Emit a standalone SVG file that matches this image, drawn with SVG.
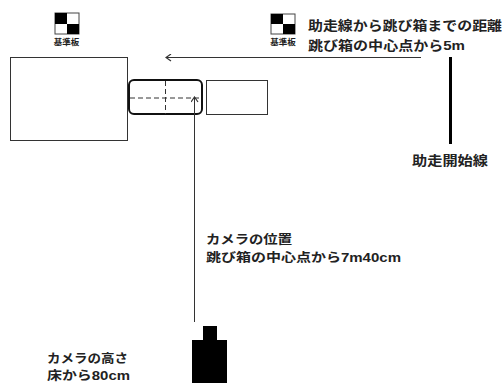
<svg xmlns="http://www.w3.org/2000/svg" width="502" height="383" viewBox="0 0 502 383">
<style>
.t{font-family:"Noto Sans CJK JP","Liberation Sans",sans-serif;font-size:13px;font-weight:700;fill:#222}
.n{font-size:12.400px}
.l{font-family:"Liberation Sans",sans-serif}
.s{font-family:"Noto Sans CJK JP",sans-serif;font-size:8.500px;font-weight:700;fill:#222}
.box{fill:#fff;stroke:#333;stroke-width:1}
.dash{fill:none;stroke:#333;stroke-width:1;stroke-dasharray:5 3}
.c{fill:none;stroke:#333;stroke-width:1}
</style>
<defs>
<marker id="a" markerWidth="8" markerHeight="8" refX="7" refY="4" orient="auto" markerUnits="userSpaceOnUse"><path d="M2 0.500L7 4L2 7.500" fill="none" stroke="#333" stroke-width="1.200"/></marker>
</defs>
<rect width="502" height="383" fill="#fff"/>
<g id="board1"><rect x="55" y="13" width="24" height="21" fill="#fff" stroke="#444"/><rect x="55" y="13" width="12" height="11" fill="#000"/><rect x="67" y="24" width="12" height="10" fill="#000"/><text class="s" x="66.500" y="44.500" text-anchor="middle">基準板</text></g>
<g id="board2"><rect x="271" y="14" width="24" height="20" fill="#fff" stroke="#444"/><rect x="271" y="14" width="12" height="10" fill="#000"/><rect x="283" y="24" width="12" height="10" fill="#000"/><text class="s" x="283" y="44.500" text-anchor="middle">基準板</text></g>
<g id="mat"><rect class="box" x="10.500" y="57.500" width="117" height="83"/></g>
<g id="vaultbox"><rect x="129" y="80" width="73" height="34" rx="5" fill="#fff" stroke="#111" stroke-width="2"/><path class="dash" d="M130 98H202M165.500 81V114"/></g>
<g id="board3"><rect class="box" x="206.500" y="80.500" width="61" height="34"/></g>
<g id="startline"><rect x="449" y="57" width="3" height="87" fill="#000"/><text class="t" x="412" y="165" textLength="76" lengthAdjust="spacingAndGlyphs">助走開始線</text></g>
<g id="camera"><path d="M203 326H217V340H227V383H192V340H203Z" fill="#000"/></g>
<g id="connectors"><path class="c" d="M421 57.500H166" marker-end="url(#a)"/><path class="c" d="M194.500 322V97" marker-end="url(#a)"/></g>
<g id="labels">
<text class="t" x="308" y="30" textLength="194" lengthAdjust="spacingAndGlyphs">助走線から跳び箱までの距離</text>
<text class="t" x="308" y="50" textLength="157" lengthAdjust="spacingAndGlyphs">跳び箱の中心点から<tspan class="l">5m</tspan></text>
<text class="t n" x="206" y="244" textLength="86" lengthAdjust="spacingAndGlyphs">カメラの位置</text>
<text class="t n" x="206" y="262" textLength="195" lengthAdjust="spacingAndGlyphs">跳び箱の中心点から<tspan class="l">7m40cm</tspan></text>
<text class="t n" x="47" y="363" textLength="81" lengthAdjust="spacingAndGlyphs">カメラの高さ</text>
<text class="t n" x="47" y="380" textLength="83" lengthAdjust="spacingAndGlyphs">床から<tspan class="l">80cm</tspan></text>
</g>
</svg>
